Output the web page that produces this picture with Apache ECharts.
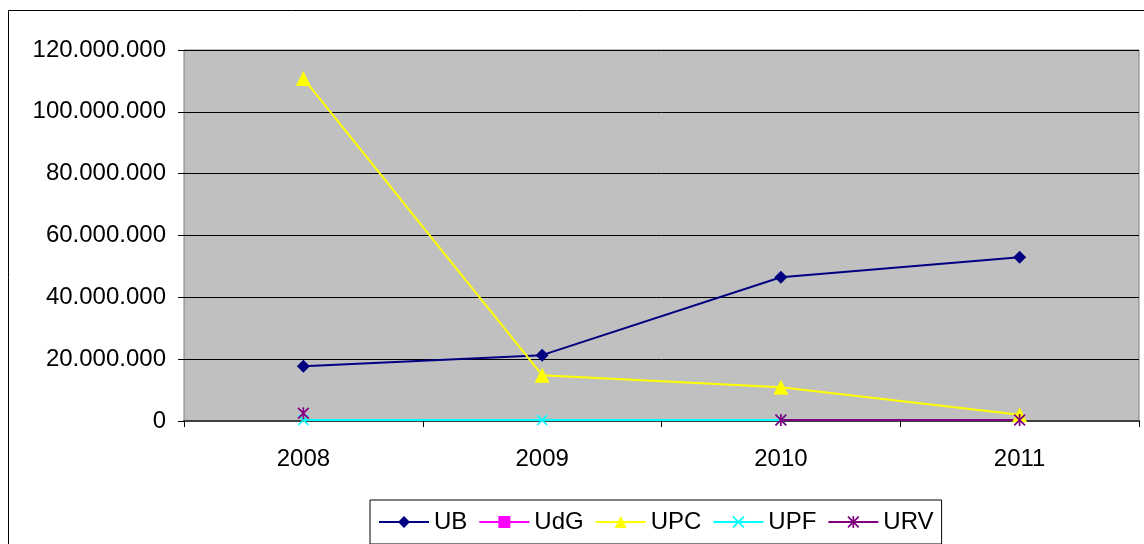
<!DOCTYPE html>
<html>
<head>
<meta charset="utf-8">
<script src="https://cdn.jsdelivr.net/npm/echarts@6/dist/echarts.min.js"></script>
<style>
html,body{margin:0;padding:0;background:#fff;}
#container{width:1144px;height:544px;}
</style>
</head>
<body>
<div id="container"></div>
<script>
// datos por universidad
var years = ['2008', '2009', '2010', '2011'];
var ub  = [17700000, 21300000, 46500000, 53000000];
var udg = [null, null, null, null];
var upc = [110800000, 14800000, 10900000, 2000000];
var upf = [300000, 300000, 300000, null];
var urv = [2500000, null, 300000, 300000];
var yTicks = [0, 20000000, 40000000, 60000000, 80000000, 100000000, 120000000];

var crossPath = 'path://M0,1L1,0L5,4L9,0L10,1L6,5L10,9L9,10L5,6L1,10L0,9L4,5Z';
var starPath = 'path://M0,1L1,0L5,4L9,0L10,1L6,5L10,9L9,10L5,6L1,10L0,9L4,5ZM4.3,0L5.7,0L5.7,10L4.3,10Z';

function fmt(v) {
    return String(v).replace(/\B(?=(\d{3})+(?!\d))/g, '.');
}

var dom = document.getElementById('container');
var myChart = echarts.init(dom);

function mk(name, data, color, symbol, size) {
    return {
        name: name,
        type: 'line',
        data: data,
        symbol: symbol,
        symbolSize: size,
        showAllSymbol: true,
        connectNulls: false,
        lineStyle: {color: color, width: 2},
        itemStyle: {color: color},
        animation: false
    };
}

var option = {
    animation: false,
    textStyle: {fontFamily: 'Liberation Sans, Arial, sans-serif'},
    graphic: [{
        type: 'rect',
        shape: {x: 8.5, y: 10.5, width: 1150, height: 560},
        style: {fill: 'none', stroke: '#000', lineWidth: 1},
        z: -10
    }],
    grid: {
        left: 184, right: 5, top: 50, bottom: 123,
        show: true,
        backgroundColor: '#C0C0C0',
        borderColor: '#808080',
        borderWidth: 1
    },
    legend: {
        left: 370,
        top: 500,
        padding: [10, 8, 10, 8],
        itemGap: 11,
        itemWidth: 50,
        itemHeight: 15,
        borderColor: '#000',
        borderWidth: 1,
        backgroundColor: '#fff',
        textStyle: {fontSize: 24, color: '#000', fontFamily: 'Liberation Sans, Arial, sans-serif'},
        data: ['UB', 'UdG', 'UPC', 'UPF', 'URV']
    },
    xAxis: {
        type: 'category',
        data: years,
        boundaryGap: true,
        axisLine: {show: true, lineStyle: {color: '#404040', width: 2}},
        axisTick: {show: true, length: 6, lineStyle: {color: '#000'}},
        axisLabel: {fontSize: 24, color: '#000', margin: 26},
        splitLine: {show: false}
    },
    yAxis: {
        type: 'value',
        min: yTicks[0],
        max: yTicks[yTicks.length - 1],
        interval: 20000000,
        axisLine: {show: false},
        axisTick: {show: true, length: 6, lineStyle: {color: '#000'}},
        axisLabel: {fontSize: 24, color: '#000', margin: 18, formatter: fmt},
        splitLine: {show: true, lineStyle: {color: '#000', width: 1}}
    },
    series: [
        mk('UB', ub, '#000080', 'diamond', 13),
        mk('UdG', udg, '#FF00FF', 'rect', 10),
        mk('UPC', upc, '#FFFF00', 'triangle', 15),
        mk('UPF', upf, '#00FFFF', crossPath, 11),
        mk('URV', urv, '#800080', starPath, 12)
    ]
};

if (option && typeof option === 'object') {
    myChart.setOption(option, true);
}
</script>
</body>
</html>
